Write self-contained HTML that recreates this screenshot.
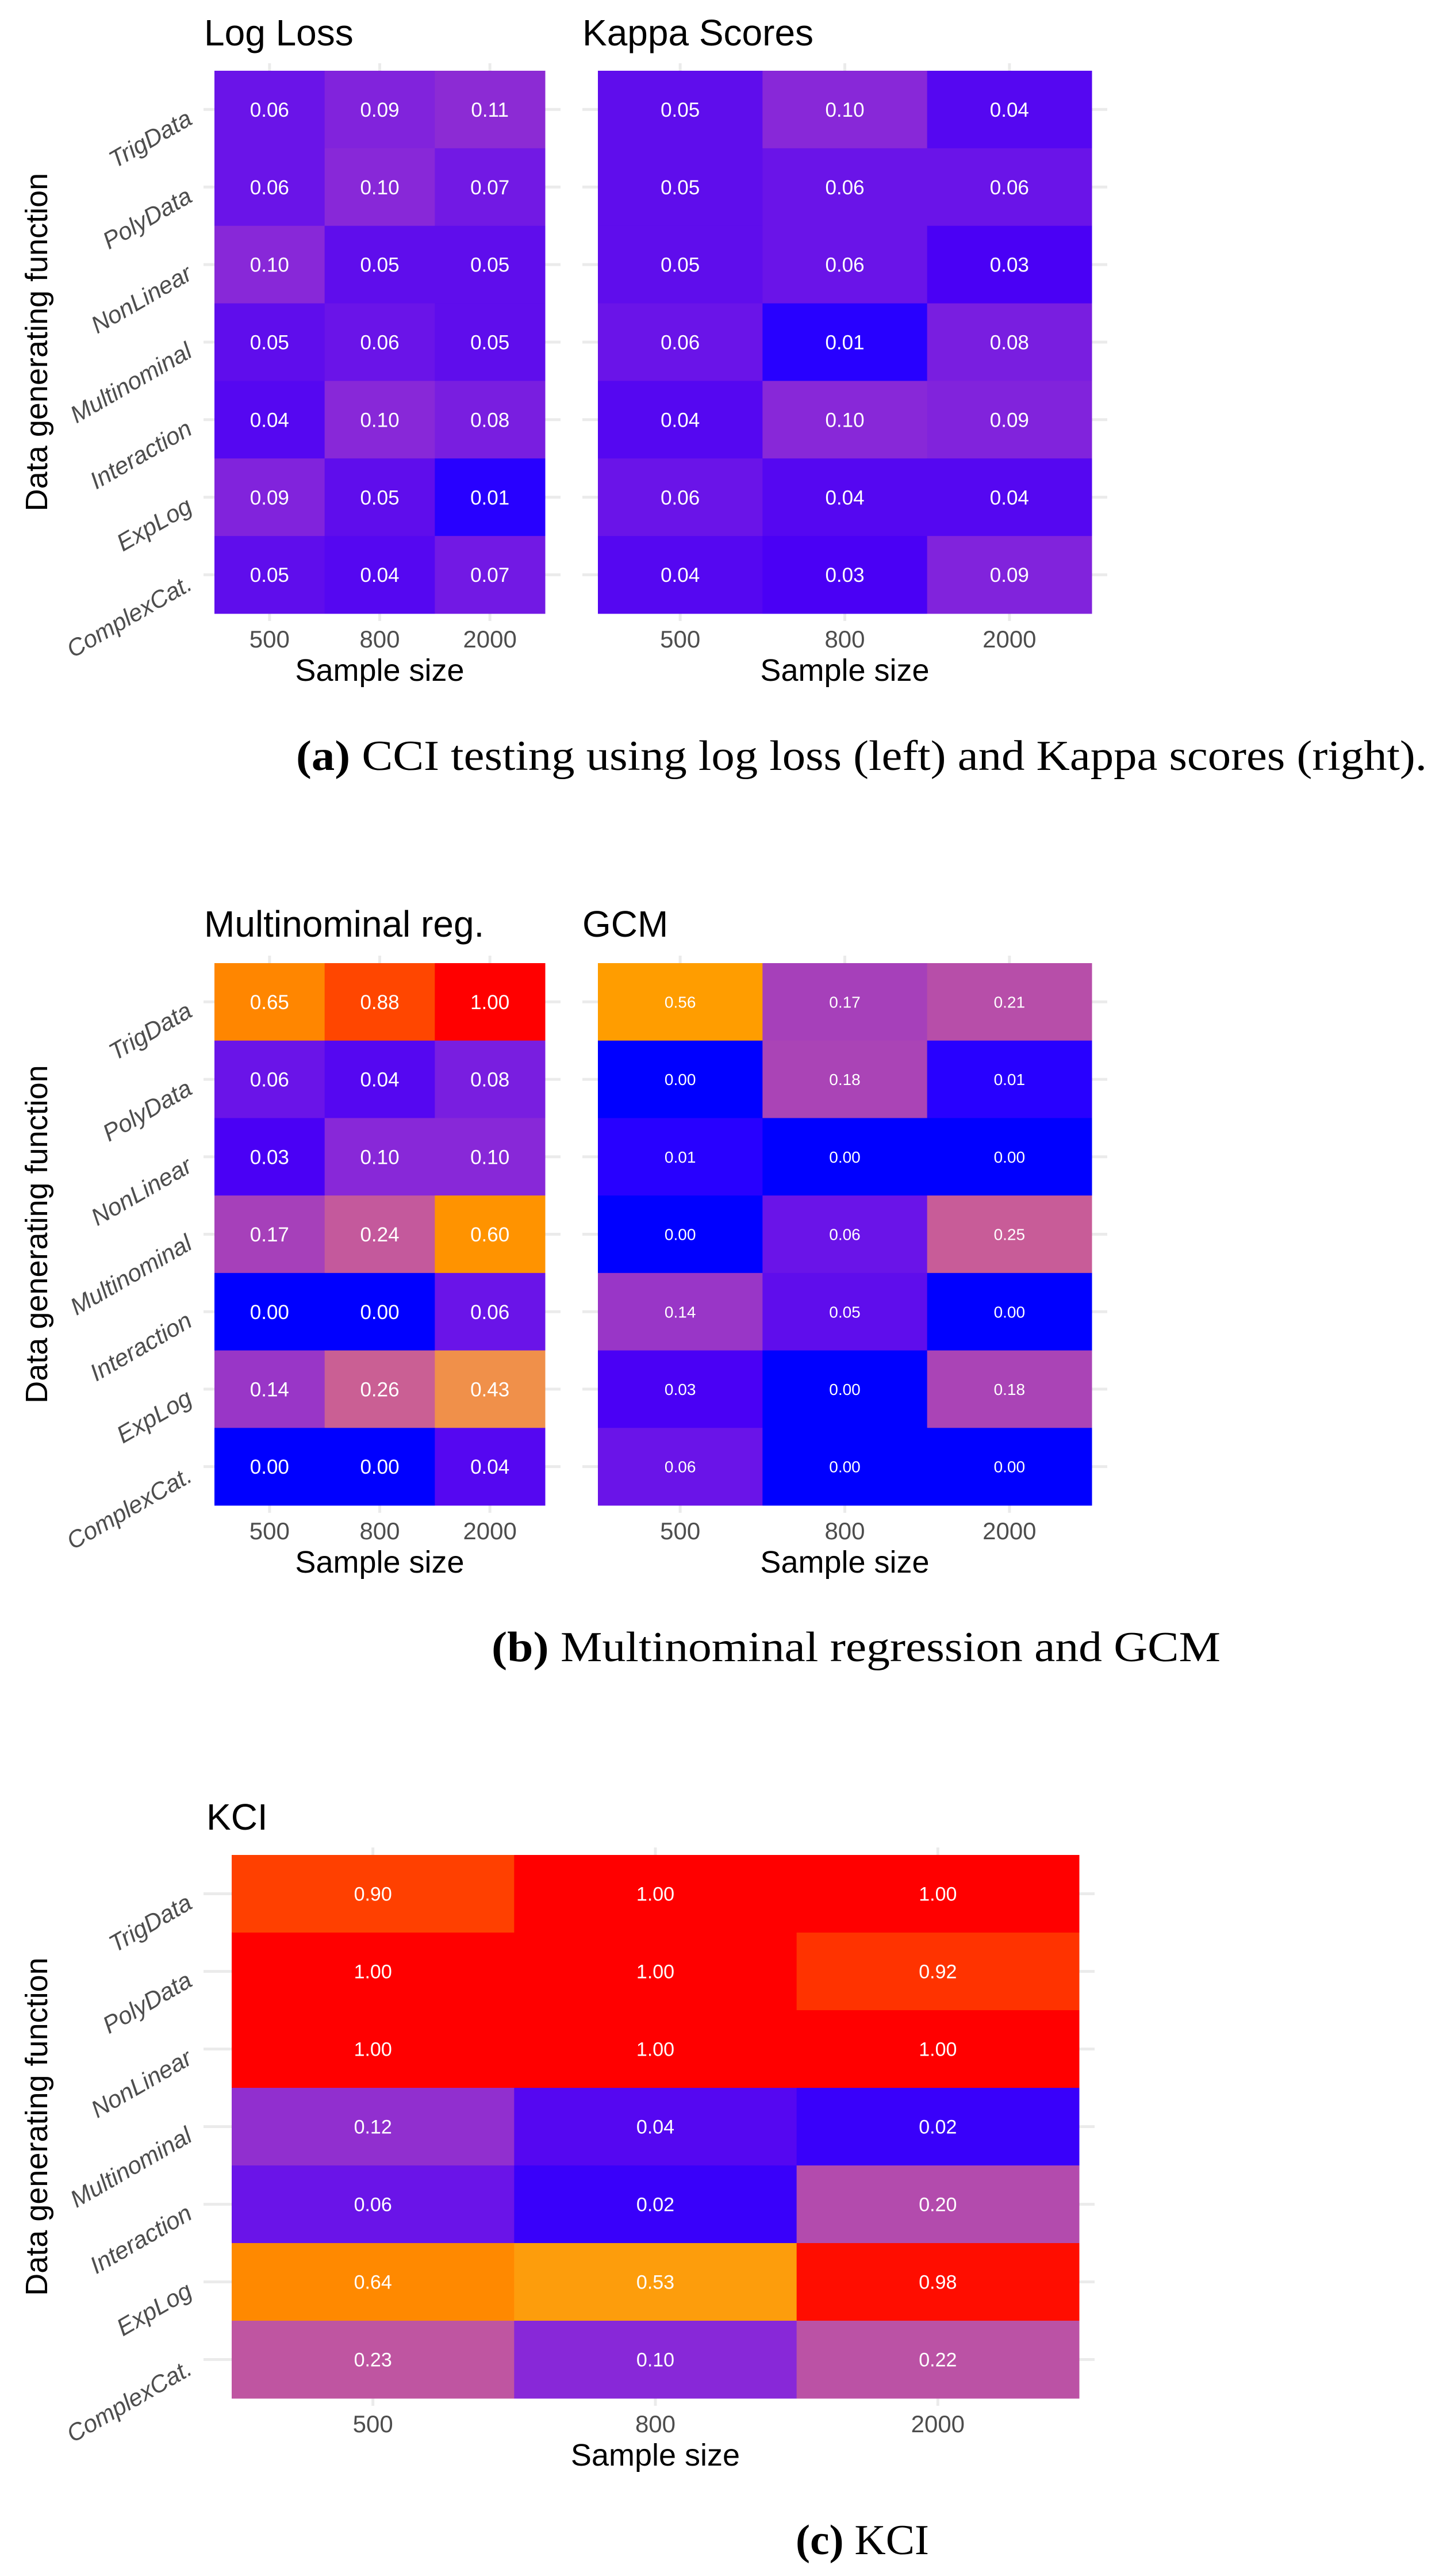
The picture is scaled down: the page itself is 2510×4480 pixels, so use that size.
<!DOCTYPE html>
<html><head><meta charset="utf-8"><style>
html,body{margin:0;padding:0;background:#fff;}
svg{display:block;}
</style></head><body>
<svg id="chart" width="2510" height="4480" viewBox="0 0 2510 4480" xmlns="http://www.w3.org/2000/svg" font-family="Liberation Sans, sans-serif">
<g id="layer-grid"></g>
<g id="layer-tiles"></g>
<g id="layer-text"></g>
<text x="515" y="1339" font-family="Liberation Serif, serif" font-size="74" textLength="1967" lengthAdjust="spacingAndGlyphs"><tspan font-weight="bold">(a)</tspan> CCI testing using log loss (left) and Kappa scores (right).</text>
<text x="855" y="2889" font-family="Liberation Serif, serif" font-size="74" textLength="1268" lengthAdjust="spacingAndGlyphs"><tspan font-weight="bold">(b)</tspan> Multinominal regression and GCM</text>
<text x="1384" y="4442" font-family="Liberation Serif, serif" font-size="74" textLength="232" lengthAdjust="spacingAndGlyphs"><tspan font-weight="bold">(c)</tspan> KCI</text>
</svg>
<script>
const rowLabels = ["TrigData","PolyData","NonLinear","Multinominal","Interaction","ExpLog","ComplexCat."];
const sampleSizes = ["500","800","2000"];
const logLossVals = [[0.06,0.09,0.11],[0.06,0.10,0.07],[0.10,0.05,0.05],[0.05,0.06,0.05],[0.04,0.10,0.08],[0.09,0.05,0.01],[0.05,0.04,0.07]];
const kappaVals = [[0.05,0.10,0.04],[0.05,0.06,0.06],[0.05,0.06,0.03],[0.06,0.01,0.08],[0.04,0.10,0.09],[0.06,0.04,0.04],[0.04,0.03,0.09]];
const multiVals = [[0.65,0.88,1.00],[0.06,0.04,0.08],[0.03,0.10,0.10],[0.17,0.24,0.60],[0.00,0.00,0.06],[0.14,0.26,0.43],[0.00,0.00,0.04]];
const gcmVals = [[0.56,0.17,0.21],[0.00,0.18,0.01],[0.01,0.00,0.00],[0.00,0.06,0.25],[0.14,0.05,0.00],[0.03,0.00,0.18],[0.06,0.00,0.00]];
const kciVals = [[0.90,1.00,1.00],[1.00,1.00,0.92],[1.00,1.00,1.00],[0.12,0.04,0.02],[0.06,0.02,0.20],[0.64,0.53,0.98],[0.23,0.10,0.22]];

const NS = "http://www.w3.org/2000/svg";
const gGrid = document.getElementById("layer-grid");
const gTiles = document.getElementById("layer-tiles");
const gText = document.getElementById("layer-text");

const colorStops = [[0,[0,0,255]],[0.01,[40,0,255]],[0.03,[74,0,245]],[0.06,[106,20,232]],[0.1,[136,40,216]],[0.25,[200,92,152]],[0.43,[240,144,74]],[0.55,[255,160,0]],[0.65,[255,134,0]],[0.9,[255,64,0]],[1,[255,0,0]]];
function colorScale(v){
  for(let i=1;i<colorStops.length;i++){
    if(v<=colorStops[i][0]){
      const a=colorStops[i-1], b=colorStops[i];
      const t=(v-a[0])/(b[0]-a[0]);
      const c=a[1].map((x,k)=>Math.round(x+(b[1][k]-x)*t));
      return "rgb("+c.join(",")+")";
    }
  }
  return "rgb(255,0,0)";
}
function mk(tag, parent, attrs){
  const e=document.createElementNS(NS,tag);
  for(const k in attrs) e.setAttribute(k,attrs[k]);
  parent.appendChild(e);
  return e;
}

function drawPanel(p, vals, key){
  const nR=rowLabels.length, nC=sampleSizes.length;
  const cw=(p.x1-p.x0)/nC, rh=(p.y1-p.y0)/nR;
  const xScale=c=>p.x0+cw*(c+0.5);
  const yScale=r=>p.y0+rh*(r+0.5);
  for(let r=0;r<nR;r++){
    const l=mk("line",gGrid,{x1:p.gx0,x2:p.x1+27,y1:yScale(r),y2:yScale(r),stroke:"#ebebeb","stroke-width":5});
    
    
  }
  for(let c=0;c<nC;c++){
    const l=mk("line",gGrid,{x1:xScale(c),x2:xScale(c),y1:p.y0-13,y2:p.y1+13,stroke:"#ebebeb","stroke-width":5});
    
    
  }
  for(let r=0;r<nR;r++){
    for(let c=0;c<nC;c++){
      const v=vals[r][c];
      const rect=mk("rect",gTiles,{x:p.x0+cw*c,y:p.y0+rh*r,width:cw+0.5,height:rh+0.5,fill:colorScale(v)});
      
      
      const t=mk("text",gText,{x:xScale(c),y:yScale(r)+p.fs*0.36,"text-anchor":"middle",fill:"#fff","font-size":p.fs});
      t.textContent=v.toFixed(2);
      
      
    }
  }
  for(let c=0;c<nC;c++){
    const t=mk("text",gText,{x:xScale(c),y:p.y1+59,"text-anchor":"middle",fill:"#4d4d4d","font-size":42});
    t.textContent=sampleSizes[c];
    
    
  }
  const xt=mk("text",gText,{x:(p.x0+p.x1)/2,y:p.y1+117,"text-anchor":"middle",fill:"#000","font-size":54});
  xt.textContent="Sample size";
  
  
  const tt=mk("text",gText,{x:p.tx,y:p.ty,fill:"#000","font-size":64});
  tt.textContent=p.title;
  
  
  if(p.ylabels){
    for(let r=0;r<nR;r++){
      const y=yScale(r)+24;
      const t=mk("text",gText,{x:337,y:y,"text-anchor":"end",fill:"#4d4d4d","font-size":42,"font-style":"italic",transform:"rotate(-30 337 "+y+")"});
      t.textContent=rowLabels[r];
      
      
    }
    const cy=(p.y0+p.y1)/2;
    const yt=mk("text",gText,{x:82,y:cy,"text-anchor":"middle",fill:"#000","font-size":54,transform:"rotate(-90 82 "+cy+")"});
    yt.textContent="Data generating function";
    
    
  }
}

drawPanel({x0:373,x1:948,y0:123,y1:1067,gx0:354,fs:35,title:"Log Loss",tx:355,ty:79,ylabels:true}, logLossVals, "logloss");
drawPanel({x0:1040,x1:1899,y0:123,y1:1067,gx0:1013,fs:35,title:"Kappa Scores",tx:1013,ty:79,ylabels:false}, kappaVals, "kappa");
drawPanel({x0:373,x1:948,y0:1675,y1:2618,gx0:354,fs:35,title:"Multinominal reg.",tx:355,ty:1629,ylabels:true}, multiVals, "multinomial");
drawPanel({x0:1040,x1:1899,y0:1675,y1:2618,gx0:1013,fs:28,title:"GCM",tx:1013,ty:1629,ylabels:false}, gcmVals, "gcm");
drawPanel({x0:403,x1:1877,y0:3226,y1:4171,gx0:354,fs:34,title:"KCI",tx:359,ty:3182,ylabels:true}, kciVals, "kci");
</script>
</body></html>
